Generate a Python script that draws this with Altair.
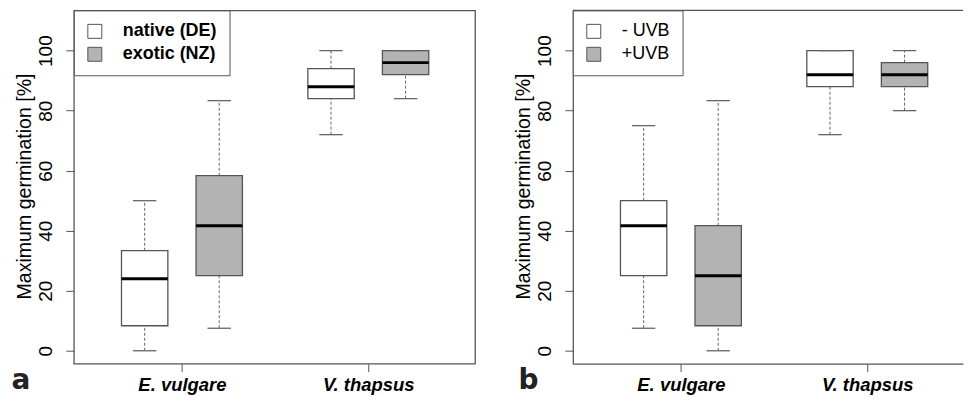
import altair as alt
import pandas as pd

# ---- data ----
species = ["E. vulgare", "V. thapsus"]
species_ticks = [1.5, 4.0]
box_pos = [1, 2, 3.5, 4.5]

a_groups = ["native (DE)", "exotic (NZ)", "native (DE)", "exotic (NZ)"]
a_lo = [0, 7.5, 72, 84]
a_q1 = [8.33, 25, 84, 92]
a_med = [24, 41.67, 88, 96]
a_q3 = [33.33, 58.33, 94, 100]
a_hi = [50, 83.33, 100, 100]

b_groups = ["- UVB", "+UVB", "- UVB", "+UVB"]
b_lo = [7.5, 0, 72, 80]
b_q1 = [25, 8.33, 88, 88]
b_med = [41.67, 25, 92, 92]
b_q3 = [50, 41.67, 100, 96]
b_hi = [75, 83.33, 100, 100]

y_ticks = [0, 20, 40, 60, 80, 100]
fill_colors = ["white", "#b3b3b3"]

FRAME = "#555555"
SANS = "Liberation Sans"

label_expr = "{}[indexof({}, datum.value)]".format(
    "[" + ",".join("'" + s + "'" for s in species) + "]",
    "[" + ",".join(str(t) for t in species_ticks) + "]",
)


def panel(groups, lo, q1, med, q3, hi, letter, width, xmax, legend_weight, framed):
    df = pd.DataFrame({"pos": box_pos, "group": groups, "lo": lo, "q1": q1,
                       "med": med, "q3": q3, "hi": hi})
    base = alt.Chart(df).transform_calculate(
        xl="datum.pos - 0.311", xr="datum.pos + 0.311",
        cl="datum.pos - 0.157", cr="datum.pos + 0.157")
    xs = alt.Scale(domain=[0.05, xmax], nice=False, zero=False)
    ys = alt.Scale(domain=[-4.3, 113.4], nice=False, zero=False)
    xaxis = alt.Axis(values=species_ticks, labelExpr=label_expr, grid=False,
                     domain=not framed, domainColor=FRAME, domainWidth=1.3,
                     tickSize=8, tickColor=FRAME, tickWidth=1,
                     labelFont=SANS, labelFontSize=18.5, labelFontWeight="bold",
                     labelFontStyle="italic", labelColor="black",
                     labelBaseline="alphabetic", labelPadding=18.7,
                     labelAlign="center",
                     title=letter, titleFont="DejaVu Sans", titleFontSize=28,
                     titleFontWeight="bold", titleColor="#222222",
                     titleX=-63 if framed else -55, titleY=25, titleAngle=0,
                     titleAlign="left", titleBaseline="alphabetic")
    yaxis = alt.Axis(values=y_ticks, grid=False,
                     domain=not framed, domainColor=FRAME, domainWidth=1.3,
                     tickSize=8, tickColor=FRAME, tickWidth=1,
                     labelFont=SANS, labelFontSize=19, labelColor="black",
                     labelAngle=270, labelAlign="center",
                     labelBaseline="alphabetic", labelPadding=14,
                     title="Maximum germination [%]", titleFont=SANS,
                     titleFontSize=19.6, titleFontWeight="normal",
                     titleColor="black", titleAngle=270, titleAlign="center",
                     titleBaseline="alphabetic", titleX=-43.5, titleY=176)

    def X(f):
        return alt.X(f, scale=xs, axis=xaxis)

    def Y(f):
        return alt.Y(f, scale=ys, axis=yaxis)

    whisk_lo = base.mark_rule(color="#666666", strokeDash=[3, 2], strokeWidth=1).encode(
        x=X("pos:Q"), y=Y("lo:Q"), y2="q1:Q")
    whisk_hi = base.mark_rule(color="#666666", strokeDash=[3, 2], strokeWidth=1).encode(
        x=X("pos:Q"), y=Y("q3:Q"), y2="hi:Q")
    boxes = base.mark_rect(stroke=FRAME, strokeWidth=1.3).encode(
        x=X("xl:Q"), x2="xr:Q",
        y=Y("q1:Q"), y2="q3:Q",
        fill=alt.Fill("group:N",
                      scale=alt.Scale(domain=groups[:2], range=fill_colors),
                      legend=alt.Legend(title=None, orient="none", legendX=0, legendY=0,
                                        padding=12, rowPadding=5, labelOffset=19,
                                        symbolType="square", symbolSize=196,
                                        symbolStrokeColor=FRAME, symbolStrokeWidth=1,
                                        strokeColor=FRAME, fillColor="white",
                                        cornerRadius=0, labelFont=SANS,
                                        labelFontSize=18, labelFontWeight=legend_weight,
                                        labelColor="black")))
    medians = base.mark_rule(color="black", strokeWidth=3).encode(
        x=X("xl:Q"), x2="xr:Q", y=Y("med:Q"))
    cap_lo = base.mark_rule(color="#666666", strokeWidth=1.3).encode(
        x=X("cl:Q"), x2="cr:Q", y=Y("lo:Q"))
    cap_hi = base.mark_rule(color="#666666", strokeWidth=1.3).encode(
        x=X("cl:Q"), x2="cr:Q", y=Y("hi:Q"))

    layers = [whisk_lo, whisk_hi, boxes, medians, cap_lo, cap_hi]
    props = dict(width=width, height=354)
    if not framed:
        top = alt.Chart(pd.DataFrame({"edge": ["top"]})).mark_rule(
            color=FRAME, strokeWidth=1.3).encode(
            x=alt.value(0), x2=alt.value("width"), y=alt.value(0))
        layers.append(top)
        props["view"] = alt.ViewBackground(stroke="transparent")
    return alt.layer(*layers).properties(**props)


pa = panel(a_groups, a_lo, a_q1, a_med, a_q3, a_hi, "a", 402, 0.05 + 402 / 74.7, "bold", True)
pb = panel(b_groups, b_lo, b_q1, b_med, b_q3, b_hi, "b", 391, 0.05 + 391 / 74.7, "normal", False)

chart = alt.hconcat(pa, pb, spacing=98, bounds="flush").resolve_scale(
    x="independent", y="independent", fill="independent"
).resolve_legend(fill="independent").properties(
    padding={"left": 2, "top": 0, "right": 0, "bottom": 0}
).configure_view(stroke=FRAME, strokeWidth=1.3)

chart.save("out.html", embed_options={"renderer": "svg", "actions": False})
